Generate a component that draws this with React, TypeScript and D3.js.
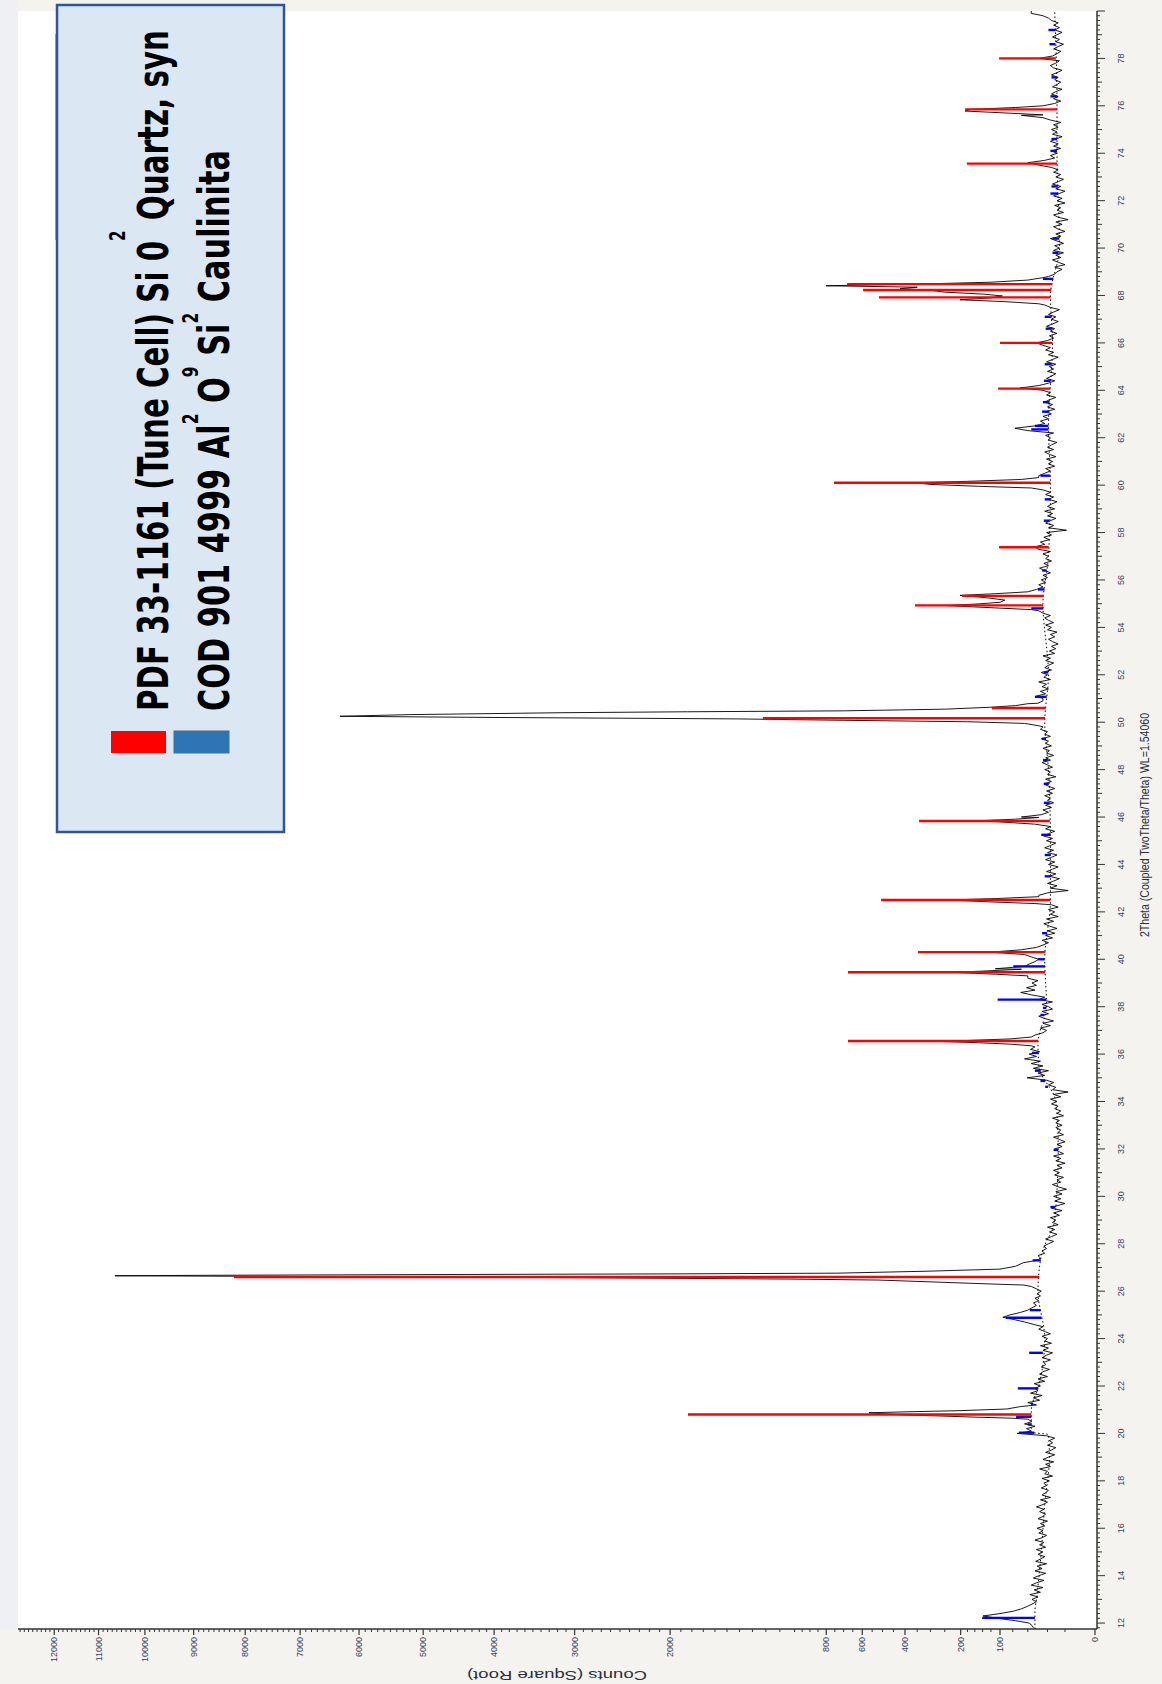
import { useEffect, useRef } from "react";
import * as d3 from "d3";

const W = 1162;
const H = 1684;

// measured scan, 2Theta step 0.1 deg starting at 11.8
const scanStart = 11.8;
const scanStep = 0.1;
const scanLead = [42, 44]; // 11.8, 11.9
// one row per degree, 12.0 ... 79.9
const scanRows: number[][] = [
  [48, 70, 105, 139, 100, 74, 60, 51, 44, 38],
  [44, 36, 47, 33, 41, 30, 45, 38, 29, 42],
  [35, 27, 40, 31, 37, 26, 39, 33, 28, 36],
  [30, 38, 27, 34, 29, 40, 31, 26, 35, 30],
  [37, 28, 33, 25, 36, 30, 27, 34, 29, 38],
  [30, 25, 33, 22, 31, 27, 24, 32, 26, 29],
  [23, 31, 20, 28, 25, 34, 22, 27, 19, 30],
  [24, 18, 27, 21, 17, 25, 20, 23, 18, 26],
  [67, 45, 52, 40, 55, 44, 50, 58, 48, 52],
  [58, 45, 38, 50, 34, 42, 31, 46, 36, 40],
  [33, 41, 28, 36, 25, 34, 30, 23, 32, 27],
  [29, 22, 31, 26, 20, 30, 24, 33, 21, 28],
  [25, 31, 22, 28, 35, 30, 42, 55, 72, 94],
  [80, 62, 50, 44, 38, 42, 35, 40, 33, 37],
  [32, 38, 41, 45, 50, 60, 80, 100, 70, 55],
  [57, 50, 57, 37, 33, 36, 28, 31, 26, 29],
  [24, 19, 27, 21, 16, 23, 18, 25, 15, 20],
  [17, 22, 14, 19, 12, 21, 16, 10, 18, 13],
  [19, 12, 17, 9, 15, 20, 13, 16, 11, 18],
  [14, 19, 12, 16, 10, 17, 13, 19, 11, 15],
  [18, 12, 16, 10, 14, 19, 11, 15, 13, 17],
  [12, 17, 14, 20, 11, 16, 13, 18, 15, 21],
  [16, 22, 13, 19, 8, 20, 17, 24, 19, 26],
  [51, 28, 36, 24, 42, 30, 45, 33, 55, 38],
  [48, 34, 46, 40, 80, 200, 140, 60, 40, 30],
  [26, 33, 22, 30, 19, 28, 35, 24, 31, 20],
  [24, 31, 20, 35, 28, 45, 61, 40, 52, 38],
  [44, 36, 50, 60, 130, 200, 110, 55, 48, 40],
  [35, 45, 55, 122, 60, 38, 30, 24, 31, 20],
  [27, 18, 25, 16, 23, 29, 19, 26, 15, 22],
  [18, 24, 15, 21, 40, 236, 100, 35, 25, 8],
  [22, 16, 25, 19, 14, 23, 17, 26, 20, 15],
  [24, 18, 27, 21, 16, 25, 19, 28, 22, 17],
  [26, 20, 29, 24, 18, 27, 22, 30, 60, 141],
  [60, 32, 24, 30, 21, 27, 19, 25, 22, 28],
  [20, 26, 18, 24, 29, 21, 27, 17, 25, 22],
  [28, 20, 25, 31, 22, 27, 19, 26, 23, 30],
  [21, 27, 24, 32, 22, 28, 25, 33, 30, 35],
  [50, 1430, 6316, 3200, 700, 122, 60, 45, 36, 30],
  [30, 38, 27, 33, 24, 31, 26, 35, 22, 29],
  [25, 32, 21, 28, 24, 19, 27, 22, 30, 18],
  [23, 17, 21, 15, 20, 24, 18, 22, 16, 25],
  [21, 27, 19, 24, 28, 22, 30, 35, 60, 246],
  [130, 90, 100, 202, 80, 45, 38, 30, 35, 27],
  [32, 25, 30, 22, 28, 34, 24, 29, 21, 27],
  [24, 30, 22, 36, 40, 28, 33, 23, 29, 21],
  [26, 9, 24, 19, 27, 22, 17, 25, 20, 28],
  [18, 25, 21, 16, 24, 19, 27, 22, 30, 45],
  [150, 359, 150, 50, 35, 28, 22, 27, 18, 24],
  [20, 26, 17, 23, 28, 19, 25, 21, 16, 24],
  [22, 27, 19, 50, 71, 40, 28, 33, 24, 30],
  [21, 27, 18, 25, 20, 28, 23, 17, 26, 22],
  [30, 62, 35, 24, 18, 26, 21, 17, 25, 19],
  [23, 17, 26, 20, 15, 24, 19, 27, 22, 30],
  [38, 25, 19, 23, 16, 22, 18, 26, 20, 15],
  [21, 17, 24, 19, 14, 22, 28, 50, 202, 90],
  [150, 300, 421, 802, 250, 80, 40, 30, 24, 18],
  [16, 12, 18, 10, 15, 20, 13, 17, 11, 19],
  [14, 18, 11, 16, 22, 13, 17, 10, 15, 19],
  [12, 17, 8, 15, 19, 11, 16, 13, 18, 10],
  [16, 12, 19, 14, 10, 17, 13, 20, 15, 11],
  [17, 13, 19, 15, 21, 35, 50, 28, 18, 22],
  [16, 21, 13, 19, 15, 22, 17, 12, 20, 16],
  [21, 15, 19, 13, 22, 30, 60, 187, 90, 35],
  [22, 18, 13, 19, 15, 21, 17, 12, 20, 16],
  [13, 18, 15, 21, 16, 12, 19, 22, 17, 14],
  [35, 20, 16, 13, 19, 15, 11, 17, 14, 20],
  [16, 12, 18, 14, 19, 15, 21, 24, 30, 45],
];
const scanTail = [45]; // 80.0

// sharp reflections read at finer spacing [2Theta, counts]
const peak20 = [[20.6, 50], [20.64, 75], [20.69, 165], [20.74, 280], [20.78, 408], [20.83, 500], [20.87, 566], [20.91, 400], [20.96, 202], [21.03, 86], [21.13, 62]];
const peak26 = [[26.2, 45], [26.26, 57], [26.29, 100], [26.47, 522], [26.51, 1031], [26.58, 3500], [26.65, 10640], [26.67, 8698], [26.7, 4959], [26.73, 1927], [26.76, 738], [26.84, 320], [26.93, 100], [27.05, 70], [27.2, 57], [27.3, 37]];
const peak36 = [[36.35, 45], [36.42, 80], [36.48, 150], [36.53, 256], [36.58, 170], [36.64, 80], [36.72, 45]];
const peak39 = [[39.3, 50], [39.37, 110], [39.45, 223], [39.51, 130], [39.58, 60]];
const peak42 = [[42.35, 40], [42.42, 120], [42.5, 236], [42.56, 110], [42.64, 35]];
const peak45 = [[45.7, 40], [45.78, 90], [45.85, 141], [45.91, 70], [45.98, 35]];
const peak50 = [[49.85, 35], [49.95, 55], [50.02, 180], [50.08, 700], [50.14, 1430], [50.2, 4000], [50.25, 6316], [50.32, 5200], [50.4, 3170], [50.44, 1840], [50.48, 700], [50.55, 250], [50.63, 122], [50.7, 70], [50.78, 50]];
const peak55 = [[54.75, 45], [54.83, 120], [54.92, 246], [54.99, 150], [55.06, 100], [55.15, 90], [55.25, 130], [55.35, 202], [55.42, 110], [55.5, 50]];
const peak60 = [[59.88, 45], [59.95, 150], [60.03, 300], [60.1, 359], [60.16, 180], [60.24, 60], [60.32, 35]];
const peak68 = [[67.65, 35], [67.74, 90], [67.82, 202], [67.9, 120], [67.98, 95], [68.06, 140], [68.14, 250], [68.22, 300], [68.29, 421], [68.35, 350], [68.41, 802], [68.48, 350], [68.56, 120], [68.65, 50], [68.75, 30]];
const peak75 = [[75.62, 30], [75.7, 90], [75.78, 187], [75.85, 170], [75.93, 70], [76.0, 30]];
const sharpPeaks = [peak20, peak26, peak36, peak39, peak42, peak45, peak50, peak55, peak60, peak68, peak75];

// fitted background (dotted)
const backgroundPts = [[11.75, 40], [12.5, 40], [13, 38], [15, 32], [17, 28], [19, 23], [19.95, 24], [20.05, 45], [21, 45], [22, 35], [24, 28], [26, 36], [27.5, 32], [29, 18], [32, 15], [34, 17], [35.5, 35], [36.5, 36], [38, 26], [40, 28], [42.5, 22], [45, 22], [48, 24], [50, 28], [52, 24], [55, 30], [57, 24], [60, 22], [62.5, 24], [66, 20], [68, 22], [70, 14], [74, 16], [76, 16], [80, 18]];

// PDF 33-1161 quartz sticks [2Theta, top counts]
const quartzSticks = [[20.8, 1835], [26.6, 8214], [36.55, 676], [39.45, 676], [40.3, 347], [42.5, 507], [45.83, 343], [50.17, 1222], [50.6, 118], [54.93, 359], [55.33, 196], [57.38, 102], [60.1, 755], [64.07, 104], [66.0, 100], [67.92, 517], [68.23, 596], [68.48, 681], [73.56, 182], [75.85, 187], [78.0, 102]];

// COD 901 4999 kaolinite sticks
const kaoliniteSticks = [[12.22, 141], [20.03, 64], [20.38, 50], [20.7, 69], [21.25, 45], [21.9, 66], [23.4, 48], [24.88, 88], [25.2, 47], [27.3, 43], [29.55, 22], [31.96, 19], [34.62, 26], [34.87, 33], [35.3, 40], [36.05, 44], [37.65, 33], [37.95, 30], [38.3, 105], [39.7, 74], [40.0, 36], [41.1, 31], [43.5, 28], [44.4, 28], [45.25, 32], [46.6, 29], [47.4, 29], [48.4, 30], [49.3, 31], [51.07, 40], [52.1, 29], [54.8, 45], [55.6, 36], [56.4, 31], [58.5, 29], [59.4, 28], [60.4, 33], [62.35, 45], [62.5, 40], [63.1, 31], [63.5, 30], [64.4, 29], [65.1, 28], [66.6, 27], [67.1, 28], [68.7, 30], [69.8, 20], [70.4, 20], [72.3, 22], [72.6, 21], [74.1, 22], [74.6, 21], [76.4, 22], [77.2, 21], [78.6, 23], [79.2, 24]];

const thetaTicks = [12, 14, 16, 18, 20, 22, 24, 26, 28, 30, 32, 34, 36, 38, 40, 42, 44, 46, 48, 50, 52, 54, 56, 58, 60, 62, 64, 66, 68, 70, 72, 74, 76, 78];
const countTicks = [0, 100, 200, 400, 600, 800, 2000, 3000, 4000, 5000, 6000, 7000, 8000, 9000, 10000, 11000, 12000];

const legendRows = [
  { color: "#ff0000", parts: ["PDF 33-1161 (Tune Cell) Si 0", "^2", "  Quartz, syn"] },
  { color: "#2e75b6", parts: ["COD 901 4999 Al", "^2", " O", "^9", "  Si", "^2", "  Caulinita"] },
];

export default function App() {
  const ref = useRef<HTMLDivElement>(null);

  useEffect(() => {
    document.body.style.margin = "0";
    const root = d3.select(ref.current);
    root.selectAll("svg").remove();

    const svg = root.append("svg")
      .attr("width", W)
      .attr("height", H)
      .style("display", "block");

    // page + plot background
    svg.append("rect").attr("width", W).attr("height", H).attr("fill", "#f4f3f0");
    svg.append("rect").attr("width", 18).attr("height", 1629).attr("fill", "#eef0f4");
    svg.append("rect").attr("x", 18).attr("y", 11).attr("width", 1079).attr("height", 1618).attr("fill", "#ffffff");

    // the whole diffractogram is turned a quarter left
    const g = svg.append("g").attr("transform", `translate(0,${H}) rotate(-90)`);

    const x = d3.scaleLinear().domain([11.75, 80]).range([55, 1673]);
    const y = d3.scaleSqrt().domain([0, 12850]).range([1095, 18]);

    // build scan
    const counts = [...scanLead, ...scanRows.flat(), ...scanTail];
    let trace = counts.map((c, i) => [+(scanStart + i * scanStep).toFixed(2), c]);
    trace = trace.filter(([t]) => !sharpPeaks.some(p => t >= p[0][0] - 1e-6 && t <= p[p.length - 1][0] + 1e-6));
    sharpPeaks.forEach(p => { trace = trace.concat(p); });
    trace.sort((a, b) => a[0] - b[0]);

    const bgAt = d3.scaleLinear()
      .domain(backgroundPts.map(d => d[0]))
      .range(backgroundPts.map(d => d[1]));

    const line = d3.line<number[]>().x(d => x(d[0])).y(d => y(d[1]));

    // axes
    const axisColor = "#333";
    g.append("line").attr("x1", 55).attr("x2", 1673).attr("y1", 1097).attr("y2", 1097)
      .attr("stroke", axisColor).attr("stroke-width", 1.5);
    g.append("line").attr("x1", 55).attr("x2", 55).attr("y1", 18).attr("y2", 1097)
      .attr("stroke", axisColor).attr("stroke-width", 1.5);

    // 2Theta ticks
    const thetaMinor = d3.range(59, 401).map(i => i / 5);
    g.append("g").selectAll("line").data(thetaMinor).join("line")
      .attr("x1", d => x(d)).attr("x2", d => x(d))
      .attr("y1", 1097)
      .attr("y2", d => {
        const r = Math.round(d * 5) % 5 === 0;
        if (r && Math.round(d) % 2 === 0) return 1105;
        if (r) return 1102;
        return 1100;
      })
      .attr("stroke", axisColor).attr("stroke-width", 1);

    const labelColor = "#34425e";
    const labelFont = "'Liberation Sans Narrow', 'Arial Narrow', Arial, sans-serif";
    g.append("g").selectAll("text").data(thetaTicks).join("text")
      .attr("x", d => x(d)).attr("y", 1124)
      .attr("text-anchor", "middle")
      .attr("font-family", labelFont).attr("font-size", 9)
      .attr("fill", labelColor)
      .text(d => d);

    // counts ticks
    const countMinor = [10, 25, 50, 75, 120, 140, 160, 180, 250, 300, 350, 450, 500, 550, 650, 700, 750, 850, 900, 950, 1000]
      .concat(d3.range(1100, 12900, 100).filter(v => v % 1000 !== 0))
      .concat([1000]);
    g.append("g").selectAll("line").data(countMinor).join("line")
      .attr("x1", 55).attr("x2", 52)
      .attr("y1", d => y(d)).attr("y2", d => y(d))
      .attr("stroke", axisColor).attr("stroke-width", 1);
    g.append("g").selectAll("line").data(countTicks).join("line")
      .attr("x1", 55).attr("x2", 49)
      .attr("y1", d => y(d)).attr("y2", d => y(d))
      .attr("stroke", axisColor).attr("stroke-width", 1.2);
    g.append("g").selectAll("text").data(countTicks).join("text")
      .attr("x", 47).attr("y", d => y(d))
      .attr("text-anchor", "end").attr("dominant-baseline", "central")
      .attr("font-family", labelFont).attr("font-size", 9)
      .attr("fill", labelColor)
      .text(d => d);

    // axis titles
    g.append("text")
      .attr("transform", "translate(13,557) rotate(-90)")
      .attr("text-anchor", "middle")
      .attr("font-family", "Arial, 'Liberation Sans', sans-serif").attr("font-size", 13)
      .attr("textLength", 180).attr("lengthAdjust", "spacingAndGlyphs")
      .attr("fill", "#2a2f3a")
      .text("Counts (Square Root)");
    g.append("text")
      .attr("x", 859).attr("y", 1149)
      .attr("text-anchor", "middle")
      .attr("font-family", labelFont).attr("font-size", 12)
      .attr("textLength", 224).attr("lengthAdjust", "spacingAndGlyphs")
      .attr("fill", "#2a2f3a")
      .text("2Theta (Coupled TwoTheta/Theta) WL=1.54060");

    // background (dotted)
    g.append("path")
      .datum(backgroundPts)
      .attr("fill", "none")
      .attr("stroke", "#000")
      .attr("stroke-width", 1)
      .attr("stroke-dasharray", "1.5,2.5")
      .attr("d", d3.line<number[]>().curve(d3.curveMonotoneX).x(d => x(d[0])).y(d => y(d[1])));

    // measured pattern
    g.append("path")
      .datum(trace)
      .attr("fill", "none")
      .attr("stroke", "#000")
      .attr("stroke-width", 0.9)
      .attr("stroke-linejoin", "round")
      .attr("d", line);

    // reference sticks
    const sticks = (data: number[][], color: string) => {
      g.append("g").selectAll("line").data(data).join("line")
        .attr("x1", d => x(d[0])).attr("x2", d => x(d[0]))
        .attr("y1", d => y(bgAt(d[0])))
        .attr("y2", d => y(Math.max(d[1], bgAt(d[0]) + 3)))
        .attr("stroke", color)
        .attr("stroke-width", 2.4);
    };
    sticks(kaoliniteSticks, "#0000ff");
    sticks(quartzSticks, "#ff0000");

    // legend (page coordinates, text runs upward)
    svg.append("rect").attr("x", 55).attr("y", 34).attr("width", 2).attr("height", 206).attr("fill", "#a9b4c6");
    svg.append("rect")
      .attr("x", 57).attr("y", 5).attr("width", 227).attr("height", 827)
      .attr("fill", "#dce7f4").attr("stroke", "#2f5597").attr("stroke-width", 2.5);

    const rowBase = [168, 229];
    const rowLen = [681, 561];
    const supShift = [43, 31];
    legendRows.forEach((row, i) => {
      svg.append("rect")
        .attr("x", i === 0 ? 111 : 174).attr("y", 731)
        .attr("width", 55).attr("height", 22)
        .attr("fill", row.color)
        .attr("stroke", i === 0 ? "none" : "#41719c");

      const t = svg.append("text")
        .attr("transform", `translate(${rowBase[i]},711) rotate(-90)`)
        .attr("font-family", "'Liberation Sans Narrow', 'DejaVu Sans Condensed', 'Open Sans', sans-serif")
        .attr("font-weight", "bold")
        .attr("font-size", 43)
        .attr("fill", "#000")
        .attr("textLength", rowLen[i])
        .attr("lengthAdjust", "spacingAndGlyphs");
      let raised = false;
      row.parts.forEach(p => {
        const sup = p.startsWith("^");
        const ts = t.append("tspan").text(sup ? p.slice(1) : p);
        if (sup) {
          ts.attr("font-size", 22).attr("dy", -supShift[i]);
          raised = true;
        } else if (raised) {
          ts.attr("dy", supShift[i]);
          raised = false;
        }
      });
    });
  }, []);

  return <div ref={ref} />;
}
